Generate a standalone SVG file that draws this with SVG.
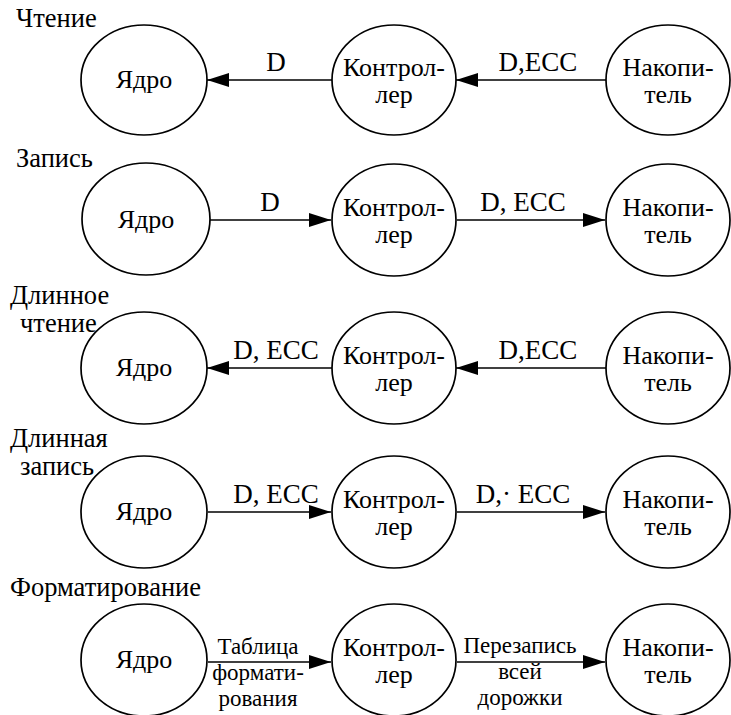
<svg xmlns="http://www.w3.org/2000/svg" width="731" height="715" viewBox="0 0 731 715">
  <style>
    text { font-family: "Liberation Serif", "Times New Roman", "DejaVu Serif", serif; font-size: 26px; fill: #000; }
    .title { font-size: 26.5px; }
    .lbl { font-size: 27px; }
    .small { font-size: 23px; }
    .mid { text-anchor: middle; }
    .node { fill: #fff; stroke: #000; stroke-width: 1.7; }
    .edge { stroke: #000; stroke-width: 1.6; fill: none; }
  </style>
  <defs>
    <marker id="arrow" viewBox="0 0 22 14" refX="22" refY="7" markerWidth="22" markerHeight="14" markerUnits="userSpaceOnUse" orient="auto">
      <path d="M0,0 L22,7 L0,14 Z" fill="#000"/>
    </marker>
  </defs>

  <!-- Section titles -->
  <g id="titles">
    <text class="title" x="16" y="27">Чтение</text>
    <text class="title" x="16" y="167">Запись</text>
    <text class="title" x="10" y="304">Длинное</text>
    <text class="title" x="20" y="332">чтение</text>
    <text class="title" x="10" y="447">Длинная</text>
    <text class="title" x="20" y="475">запись</text>
    <text class="title" x="10" y="596">Форматирование</text>
  </g>

  <!-- Connectors -->
  <g id="connectors">
    <!-- read -->
    <line class="edge" x1="332" y1="80" x2="207" y2="80" marker-end="url(#arrow)"/>
    <line class="edge" x1="606" y1="80" x2="456" y2="80" marker-end="url(#arrow)"/>
    <!-- write -->
    <line class="edge" x1="210" y1="220" x2="331" y2="220" marker-end="url(#arrow)"/>
    <line class="edge" x1="457" y1="220" x2="605" y2="220" marker-end="url(#arrow)"/>
    <!-- long read -->
    <line class="edge" x1="332" y1="368" x2="207" y2="368" marker-end="url(#arrow)"/>
    <line class="edge" x1="606" y1="368" x2="456" y2="368" marker-end="url(#arrow)"/>
    <!-- long write -->
    <line class="edge" x1="208" y1="512" x2="331" y2="512" marker-end="url(#arrow)"/>
    <line class="edge" x1="457" y1="512" x2="605" y2="512" marker-end="url(#arrow)"/>
    <!-- formatting -->
    <line class="edge" x1="208" y1="662" x2="331" y2="662" marker-end="url(#arrow)"/>
    <line class="edge" x1="457" y1="662" x2="605" y2="662" marker-end="url(#arrow)"/>

    <text class="lbl mid" x="276" y="71">D</text>
    <text class="lbl mid" x="538" y="71">D,ECC</text>
    <text class="lbl mid" x="270" y="211">D</text>
    <text class="lbl mid" x="523" y="211">D, ECC</text>
    <text class="lbl mid" x="276" y="359">D, ECC</text>
    <text class="lbl mid" x="538" y="359">D,ECC</text>
    <text class="lbl mid" x="276" y="503">D, ECC</text>
    <text class="lbl mid" x="523" y="503">D,· ECC</text>
    <text class="small mid" x="258" y="654">Таблица</text>
    <text class="small mid" x="258" y="680">формати-</text>
    <text class="small mid" x="258" y="706">рования</text>
    <text class="small mid" x="520" y="653">Перезапись</text>
    <text class="small mid" x="520" y="679">всей</text>
    <text class="small mid" x="520" y="705">дорожки</text>
  </g>

  <!-- Row 1: read -->
  <g id="core-read"><ellipse class="node" cx="144" cy="80" rx="63" ry="55"/><text class="mid" x="144" y="88">Ядро</text></g>
  <g id="ctrl-read"><ellipse class="node" cx="394" cy="80" rx="62" ry="55"/><text class="mid" x="394" y="76">Контрол-</text><text class="mid" x="394" y="103">лер</text></g>
  <g id="store-read"><ellipse class="node" cx="668" cy="80" rx="62" ry="55"/><text class="mid" x="668" y="76">Накопи-</text><text class="mid" x="668" y="103">тель</text></g>

  <!-- Row 2: write -->
  <g id="core-write"><ellipse class="node" cx="146" cy="219" rx="64" ry="56"/><text class="mid" x="146" y="228">Ядро</text></g>
  <g id="ctrl-write"><ellipse class="node" cx="394" cy="220" rx="62" ry="56"/><text class="mid" x="394" y="216">Контрол-</text><text class="mid" x="394" y="243">лер</text></g>
  <g id="store-write"><ellipse class="node" cx="668" cy="220" rx="62" ry="56"/><text class="mid" x="668" y="216">Накопи-</text><text class="mid" x="668" y="243">тель</text></g>

  <!-- Row 3: long read -->
  <g id="core-longread"><ellipse class="node" cx="144" cy="368" rx="63" ry="56"/><text class="mid" x="144" y="376">Ядро</text></g>
  <g id="ctrl-longread"><ellipse class="node" cx="394" cy="368" rx="62" ry="56"/><text class="mid" x="394" y="364">Контрол-</text><text class="mid" x="394" y="391">лер</text></g>
  <g id="store-longread"><ellipse class="node" cx="668" cy="368" rx="62" ry="56"/><text class="mid" x="668" y="364">Накопи-</text><text class="mid" x="668" y="391">тель</text></g>

  <!-- Row 4: long write -->
  <g id="core-longwrite"><ellipse class="node" cx="144" cy="512" rx="63" ry="56"/><text class="mid" x="144" y="520">Ядро</text></g>
  <g id="ctrl-longwrite"><ellipse class="node" cx="394" cy="512" rx="62" ry="56"/><text class="mid" x="394" y="508">Контрол-</text><text class="mid" x="394" y="535">лер</text></g>
  <g id="store-longwrite"><ellipse class="node" cx="668" cy="512" rx="62" ry="56"/><text class="mid" x="668" y="508">Накопи-</text><text class="mid" x="668" y="535">тель</text></g>

  <!-- Row 5: formatting -->
  <g id="core-format"><ellipse class="node" cx="144" cy="660" rx="63" ry="56"/><text class="mid" x="144" y="668">Ядро</text></g>
  <g id="ctrl-format"><ellipse class="node" cx="394" cy="660" rx="62" ry="56"/><text class="mid" x="394" y="656">Контрол-</text><text class="mid" x="394" y="683">лер</text></g>
  <g id="store-format"><ellipse class="node" cx="668" cy="660" rx="62" ry="56"/><text class="mid" x="668" y="656">Накопи-</text><text class="mid" x="668" y="683">тель</text></g>
</svg>
